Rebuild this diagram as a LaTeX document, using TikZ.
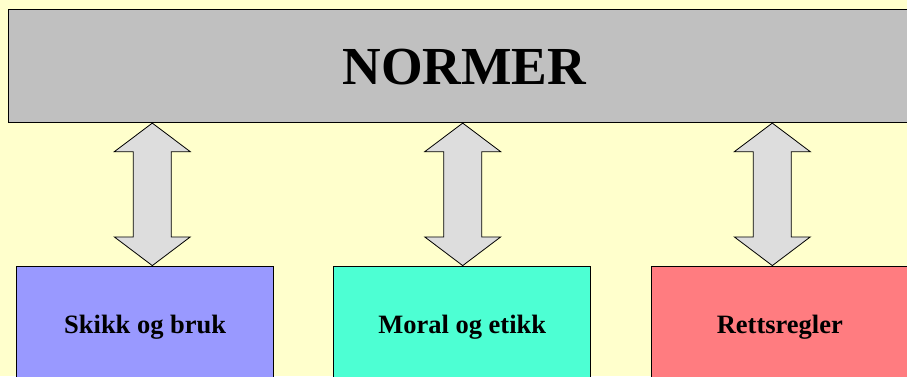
\documentclass[tikz,border=0pt]{standalone}
\usepackage{fontspec}
\setmainfont{Liberation Serif}
\usetikzlibrary{calc}

\definecolor{bgyellow}{HTML}{FFFFCC}
\definecolor{normgray}{HTML}{C0C0C0}
\definecolor{arrowgray}{HTML}{DDDDDD}
\definecolor{skikkblue}{HTML}{9999FF}
\definecolor{moralgreen}{HTML}{4DFFD3}
\definecolor{rettred}{HTML}{FF7C80}

\tikzset{
  normbox/.style={draw=black, line width=0.8pt, fill=normgray, minimum width=911pt,
    minimum height=113.7pt, font=\bfseries\fontsize{53.5}{58}\selectfont},
  kindbox/.style={draw=black, line width=0.8pt, minimum width=257pt, minimum height=122pt,
    font=\bfseries\fontsize{26.5}{30}\selectfont, text height=18pt, text depth=6pt},
  blockarrow/.style={draw=black, line width=0.8pt, fill=arrowgray, line join=miter}
}

% double block arrow from tip #1 down to tip #2
\newcommand{\dblarrow}[2]{%
  \draw[blockarrow] (#1) -- ++(38,-28.6) -- ++(-19,0) -- ($(#2)+(19,28.7)$) -- ++(19,0)
    -- (#2) -- ++(-38,28.7) -- ++(19,0) -- ($(#1)+(-19,-28.6)$) -- ++(-19,0) -- cycle;}

\begin{document}
\begin{tikzpicture}[x=1pt,y=1pt]
    % background
    \fill[bgyellow] (0,0) rectangle (907,-376);
    \useasboundingbox (0,0) rectangle (907,-376);
    \clip (0,0) rectangle (907,-376);

    % draw top box
    \node[normbox, text height=38pt, text depth=0pt] (normer) at (464.3,-65.85) {NORMER};

    % draw bottom boxes
    \node[kindbox, fill=skikkblue] (skikk) at (145.2,-327) {Skikk og bruk};
    \node[kindbox, fill=moralgreen] (moral) at (462.2,-327) {Moral og etikk};
    \node[kindbox, fill=rettred] (rett) at (779.8,-327) {Rettsregler};

    % draw arrows
    \coordinate (tip1) at (normer.south -| 152.3,0);
    \coordinate (tip2) at (normer.south -| 462.7,0);
    \coordinate (tip3) at (normer.south -| 772.3,0);
    \dblarrow{tip1}{tip1 |- skikk.north}
    \dblarrow{tip2}{tip2 |- moral.north}
    \dblarrow{tip3}{tip3 |- rett.north}
\end{tikzpicture}
\end{document}
